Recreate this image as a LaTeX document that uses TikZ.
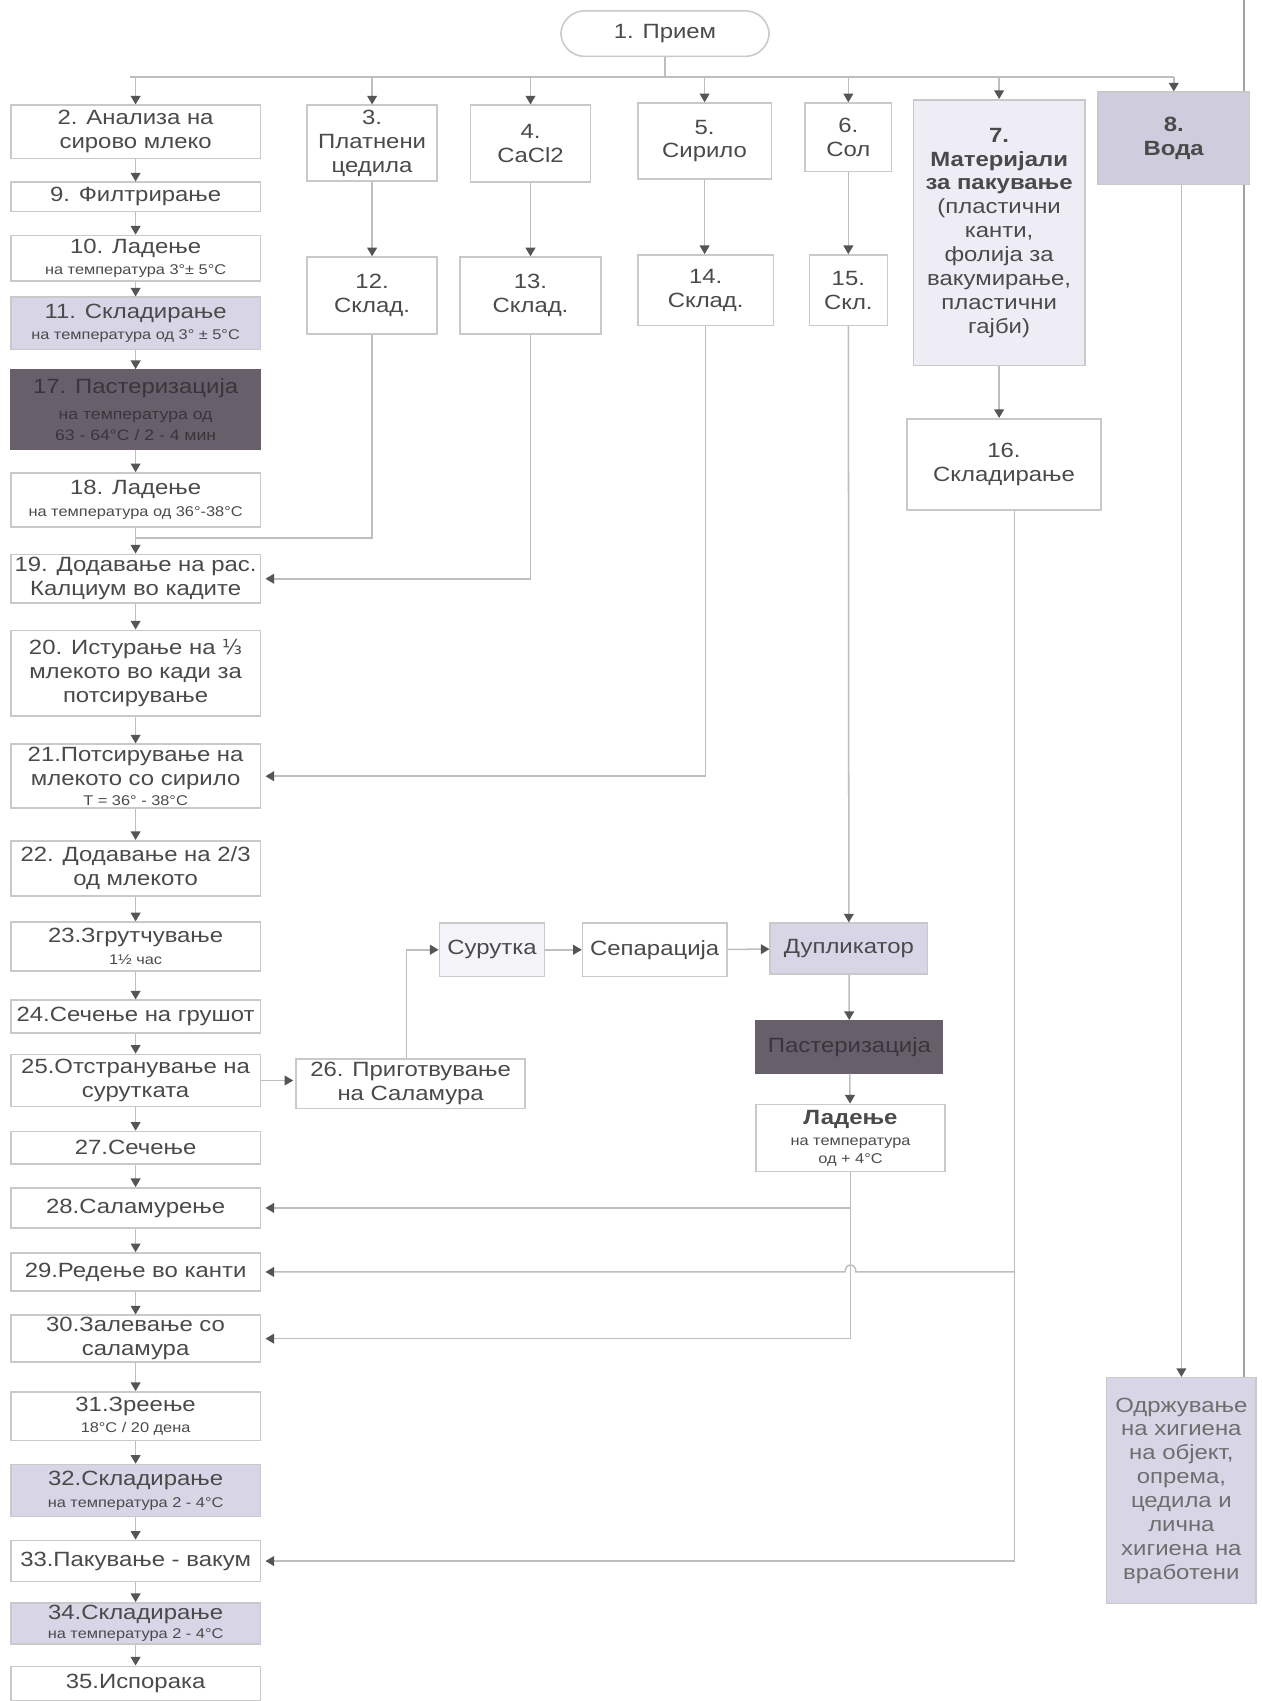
\documentclass[tikz,border=0pt]{standalone}
\usepackage{fontspec}
\setmainfont{Liberation Sans}[FakeStretch=1.16]
\newfontfamily\djv{DejaVu Sans}
\usetikzlibrary{arrows.meta}
\definecolor{bordc}{HTML}{C9C9C9}
\definecolor{linec}{HTML}{BEBEBE}
\definecolor{tipc}{HTML}{555555}
\definecolor{txtc}{HTML}{4A4A4A}
\definecolor{lav}{HTML}{D8D6E6}
\definecolor{lavlight}{HTML}{EEEDF5}
\definecolor{lavdark}{HTML}{CFCDDD}
\definecolor{darkbox}{HTML}{67606B}
\definecolor{darktxt}{HTML}{3A353D}
\definecolor{edgec}{HTML}{A0A0A0}
\newcommand{\smtxt}{\fontsize{6.5}{8}\selectfont}
\newcommand{\medtxt}{\fontsize{7}{8.5}\selectfont}
\begin{document}
\begin{tikzpicture}[x=0.5pt,y=-0.5pt,
 box/.style={draw=bordc, line width=0.7pt, fill=white, align=center, text=txtc, inner sep=1pt, font=\fontsize{9.5}{11}\selectfont},
 lbox/.style={box, minimum width=115pt},
 lavbox/.style={box, fill=lav},
 darkb/.style={box, fill=darkbox, draw=darkbox, text=darktxt},
 arr/.style={draw=linec, line width=0.7pt, -{Triangle[width=4.5pt,length=4pt,color=tipc]}},
 ln/.style={draw=linec, line width=0.7pt},
]
\fill[white] (0,0) rectangle (1163,1568);
\useasboundingbox (0,0) rectangle (1163,1568);
\draw[edgec, line width=0.9pt] (1147,0) -- (1147,1272);

% top
\node[box, rounded corners=11pt, minimum width=96pt, minimum height=21pt] (n1) at (613,31) {1. Прием};

% left column
\node[lbox, minimum height=24.5pt] (n2) at (125,121.5) {2. Анализа на\\сирово млеко};
\node[lbox, minimum height=13.5pt] (n9) at (125,181.5) {9. Филтрирање};
\node[lbox, minimum height=21pt] (n10) at (125,238) {10. Ладење\\[-1pt]{\smtxt на температура 3°± 5°C}};
\node[lbox, lavbox, minimum height=24pt] (n11) at (125,298) {11. Складирање\\[-1pt]{\smtxt на температура од 3° ± 5°C}};
\node[lbox, darkb, minimum height=36.5pt] (n17) at (125,377.5) {17. Пастеризација\\[1pt]{\medtxt на температура од}\\[-1pt]{\medtxt 63 - 64°C / 2 - 4 мин}};
\node[lbox, minimum height=25pt] (n18) at (125,461) {18. Ладење\\[-1pt]{\smtxt на температура од 36°-38°C}};
\node[lbox, minimum height=22.5pt] (n19) at (125,533.5) {19. Додавање на рас.\\Калциум во кадите};
\node[lbox, minimum height=39.5pt] (n20) at (125,620.5) {20. Истурање на {\djv ⅓}\\млекото во кади за\\потсирување};
\node[lbox, minimum height=29.5pt] (n21) at (125,715.5) {21.Потсирување на\\млекото со сирило\\[-2pt]{\smtxt T = 36° - 38°C}};
\node[lbox, minimum height=25.5pt] (n22) at (125,800.5) {22. Додавање на 2/3\\од млекото};
\node[lbox, minimum height=22.5pt] (n23) at (125,872.5) {23.Згрутчување\\[-1pt]{\smtxt 1½ час}};
\node[lbox, minimum height=15pt] (n24) at (125,937) {24.Сечење на грушот};
\node[lbox, minimum height=24pt] (n25) at (125,996) {25.Отстранување на\\сурутката};
\node[lbox, minimum height=15pt] (n27) at (125,1058) {27.Сечење};
\node[lbox, minimum height=18.5pt] (n28) at (125,1113.5) {28.Саламурење};
\node[lbox, minimum height=17.5pt] (n29) at (125,1172.5) {29.Редење во канти};
\node[lbox, minimum height=21pt] (n30) at (125,1234) {30.Залевање со\\саламура};
\node[lbox, minimum height=22.5pt] (n31) at (125,1305.5) {31.Зреење\\[-1pt]{\smtxt 18°C / 20 дена}};
\node[lbox, lavbox, minimum height=24pt] (n32) at (125,1374) {32.Складирање\\[-1pt]{\smtxt на температура 2 - 4°C}};
\node[lbox, minimum height=19pt] (n33) at (125,1439) {33.Пакување - вакум};
\node[lbox, lavbox, minimum height=18.5pt] (n34) at (125,1496.5) {34.Складирање\\[-2pt]{\smtxt на температура 2 - 4°C}};
\node[lbox, minimum height=16pt] (n35) at (125,1552) {35.Испорака};

% top row inputs
\node[box, minimum width=60pt, minimum height=35pt] (n3) at (343,132) {3.\\Платнени\\цедила};
\node[box, minimum width=55.5pt, minimum height=35.5pt] (n4) at (489,132.5) {4.\\CaCl2};
\node[box, minimum width=61.5pt, minimum height=35pt] (n5) at (649.5,130) {5.\\Сирило};
\node[box, minimum width=40pt, minimum height=31.5pt] (n6) at (782,126.5) {6.\\Сол};
\node[box, fill=lavlight, minimum width=79pt, minimum height=122.5pt] (n7) at (921,214.5) {\textbf{7.}\\\textbf{Материјали}\\\textbf{за пакување}\\(пластични\\канти,\\фолија за\\вакумирање,\\пластични\\гајби)};
\node[box, fill=lavdark, minimum width=70pt, minimum height=42.5pt] (n8) at (1082,127.5) {\textbf{8.}\\\textbf{Вода}};

\node[box, minimum width=60pt, minimum height=35.5pt] (n12) at (343,272.5) {12.\\Склад.};
\node[box, minimum width=65pt, minimum height=35.5pt] (n13) at (489,272.5) {13.\\Склад.};
\node[box, minimum width=62.5pt, minimum height=32.5pt] (n14) at (650.5,267.5) {14.\\Склад.};
\node[box, minimum width=36pt, minimum height=32.5pt] (n15) at (782,267.5) {15.\\Скл.};
\node[box, minimum width=89.5pt, minimum height=42pt] (n16) at (925.5,428) {16.\\Складирање};

% middle chain
\node[box, minimum width=105.5pt, minimum height=23pt] (n26) at (378.5,999) {26. Приготвување\\на Саламура};
\node[box, fill=lavlight!60, minimum width=48.5pt, minimum height=24.5pt] (sur) at (453.5,875.5) {Сурутка};
\node[box, minimum width=66.5pt, minimum height=24.5pt] (sep) at (603.5,875.5) {Сепарација};
\node[box, fill=lav, minimum width=72.5pt, minimum height=23.5pt] (dup) at (782.5,874.5) {Дупликатор};
\node[box, fill=darkbox, draw=darkbox, text=darktxt, minimum width=86pt, minimum height=24pt] (past) at (783,965) {Пастеризација};
\node[box, minimum width=87pt, minimum height=31pt] (lad) at (784,1049) {\textbf{Ладење}\\[-1pt]{\smtxt на температура}\\[-3pt]{\smtxt од + 4°C}};
\node[box, fill=lav, text=txtc!80, minimum width=69pt, minimum height=104pt] (hyg) at (1089,1374) {Одржување\\на хигиена\\на објект,\\опрема,\\цедила и\\лична\\хигиена на\\вработени};

% top bar
\coordinate (barL) at (120,71);
\coordinate (barR) at (1082,71);
\draw[ln] (n1.south) -- (n1.south |- barL);
\draw[ln] (barL) -- (barR);
\draw[arr] (n2.north |- barL) -- (n2.north);
\draw[arr] (n3.north |- barL) -- (n3.north);
\draw[arr] (n4.north |- barL) -- (n4.north);
\draw[arr] (n5.north |- barL) -- (n5.north);
\draw[arr] (n6.north |- barL) -- (n6.north);
\draw[arr] (n7.north |- barL) -- (n7.north);
\draw[arr] (barR) -- (n8.north);

% left column flow
\draw[arr] (n2) -- (n9);
\draw[arr] (n9) -- (n10);
\draw[arr] (n10) -- (n11);
\draw[arr] (n11) -- (n17);
\draw[arr] (n17) -- (n18);
\draw[arr] (n18) -- (n19);
\draw[arr] (n19) -- (n20);
\draw[arr] (n20) -- (n21);
\draw[arr] (n21) -- (n22);
\draw[arr] (n22) -- (n23);
\draw[arr] (n23) -- (n24);
\draw[arr] (n24) -- (n25);
\draw[arr] (n25) -- (n27);
\draw[arr] (n27) -- (n28);
\draw[arr] (n28) -- (n29);
\draw[arr] (n29) -- (n30);
\draw[arr] (n30) -- (n31);
\draw[arr] (n31) -- (n32);
\draw[arr] (n32) -- (n33);
\draw[arr] (n33) -- (n34);
\draw[arr] (n34) -- (n35);

% inputs to storage
\draw[arr] (n3) -- (n12);
\draw[arr] (n4) -- (n13);
\draw[arr] (n5.south) -- (n5.south |- n14.north);
\draw[arr] (n6) -- (n15);
\draw[arr] (n7.south) -- (n7.south |- n16.north);

% storage to process
\coordinate (j19) at (125,496);
\draw[ln] (n12.south) -- (n12.south |- j19) -- (j19);
\draw[arr, shorten >=2pt] (n13.south) |- (n19.east);
\draw[arr, shorten >=2pt] (n14.south) |- (n21.east);
\draw[arr] (n15) -- (dup);

% whey chain
\draw[arr, shorten >=1pt] (n25.east) -- (n25.east -| n26.west);
\draw[arr] ([xshift=-2pt]n26.north) |- (sur.west);
\draw[arr] (sur) -- (sep);
\draw[arr] (sep) -- (dup);
\draw[arr] (dup) -- (past);
\draw[arr] (past) -- (lad);
\draw[arr, shorten >=2pt] (lad.south) |- (n28.east);
\draw[arr, shorten >=2pt] (lad.south) |- (n30.east);

% packaging materials
\coordinate (p16) at (935,470);
\coordinate (c29) at (935,1172.5);
\draw[arr, shorten >=2pt] (p16) |- (n33.east);
\draw[arr, shorten >=2pt] (c29) -- (789,1172.5) .. controls (789,1164) and (779,1164) .. (779,1172.5) -- (n29.east);

% water to hygiene
\draw[arr] (hyg.north |- n8.south) -- (hyg.north);
\end{tikzpicture}
\end{document}
